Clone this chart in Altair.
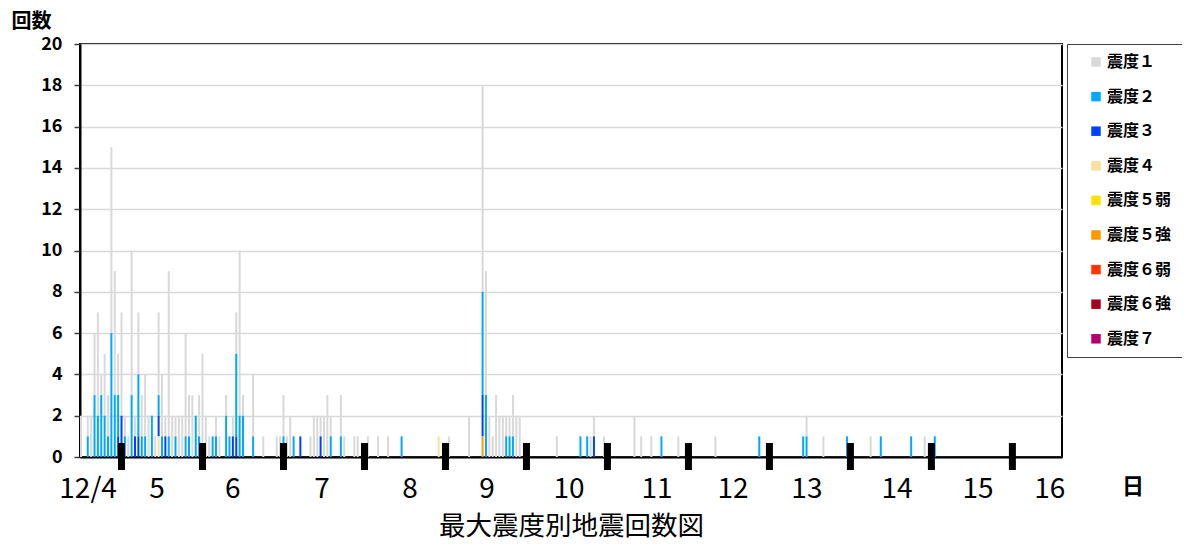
import altair as alt
import pandas as pd

# Intensity classes and their colours
levels = ["震度１", "震度２", "震度３", "震度４", "震度５弱", "震度５強", "震度６弱", "震度６強", "震度７"]
level_colors = ["#d9d9d9", "#00a8ff", "#0040ff", "#fae29c", "#ffe100",
                "#ff9900", "#ff3300", "#a50021", "#b4006c"]

# (hour since 12/4 12:00, count) per intensity class
shindo1 = [(0, 2), (2, 1), (3, 2), (4, 3), (5, 5), (6, 1), (7, 3), (8, 2), (9, 9), (10, 6),
           (11, 2), (12, 5), (13, 1), (14, 1), (15, 7), (16, 1), (17, 3), (18, 2), (19, 3),
           (20, 2), (22, 1), (23, 4), (24, 3), (25, 1), (26, 8), (27, 2), (28, 1), (29, 2),
           (30, 2), (31, 5), (32, 2), (33, 3), (35, 2), (36, 5), (37, 2), (38, 1), (40, 1),
           (41, 1), (43, 1), (45, 1), (46, 2), (47, 8), (48, 1), (51, 3), (54, 1), (58, 1),
           (59, 1), (60, 2), (61, 1), (62, 2), (68, 1), (69, 2), (70, 2), (71, 1), (72, 2),
           (73, 3), (74, 1), (77, 2), (78, 1), (81, 1), (82, 1), (85, 1), (88, 1), (91, 1),
           (109, 1), (115, 2), (119, 10), (120, 6), (121, 2), (122, 1), (123, 3), (124, 2),
           (125, 2), (126, 1), (127, 1), (128, 2), (129, 2), (130, 2), (141, 1), (151, 1),
           (152, 1), (155, 1), (164, 2), (166, 1), (169, 1), (177, 1), (188, 1), (215, 1),
           (220, 1), (234, 1), (250, 1)]
shindo2 = [(2, 1), (4, 3), (5, 2), (6, 3), (7, 2), (8, 1), (9, 6), (10, 3), (11, 2), (13, 1),
           (15, 3), (17, 3), (18, 1), (19, 1), (21, 2), (23, 1), (24, 1), (26, 1), (28, 1),
           (31, 1), (32, 1), (34, 2), (35, 1), (39, 1), (40, 1), (43, 2), (44, 1), (46, 4),
           (47, 2), (48, 2), (51, 1), (60, 1), (63, 1), (74, 1), (77, 1), (95, 1), (119, 5),
           (120, 3), (126, 1), (127, 1), (128, 1), (148, 1), (150, 1), (172, 1), (201, 1),
           (214, 1), (215, 1), (227, 1), (237, 1), (246, 1), (253, 1)]
shindo3 = [(11, 1), (12, 2), (16, 1), (17, 1), (23, 1), (25, 1), (45, 1), (46, 1), (65, 1),
           (71, 1), (119, 2), (152, 1)]
shindo4 = [(23, 1), (106, 1)]
shindo5_strong = [(119, 1)]

# Day boundaries and day labels (axis positions in hours)
day_ticks = [12, 36, 60, 84, 108, 132, 156, 180, 204, 228, 252, 276]
day_labels = ["12/4", "5", "6", "7", "8", "9", "10", "11", "12", "13", "14", "15", "16"]
day_label_pos = [2.1, 22.5, 45.0, 71.4, 97.5, 120.3, 144.6, 170.7, 193.2, 215.1, 241.8, 265.8, 287.1]

series = {"震度１": shindo1, "震度２": shindo2, "震度３": shindo3,
          "震度４": shindo4, "震度５強": shindo5_strong}
rows = []
for lvl, pairs in series.items():
    for h, n in pairs:
        rows.append({"h": h, "n": n, "level": lvl, "rank": levels.index(lvl)})
df = pd.DataFrame(rows)

JP = "Noto Sans CJK JP"
xscale = alt.Scale(domain=[-0.3, 290.7], nice=False, zero=False, padding=0)
xaxis = alt.Axis(labels=False, ticks=False, grid=False, domain=True, domainColor="black",
                 domainWidth=2, title="最大震度別地震回数図", titleFont=JP, titleFontSize=26.5,
                 titleFontWeight="normal", titleColor="black", titlePadding=56)

bars = alt.Chart(df).mark_bar(width=2).encode(
    x=alt.X("h:Q", scale=xscale, axis=xaxis),
    y=alt.Y("n:Q", stack="zero", scale=alt.Scale(domain=[0, 20], nice=False, padding=0),
            axis=alt.Axis(values=list(range(0, 21, 2)), title="回数", titleAngle=0,
                          titleX=-49, titleY=-23, titleAlign="center", titleBaseline="middle",
                          titleFont=JP, titleFontSize=20, titleFontWeight="bold",
                          titleColor="black", labelFont=JP, labelFontSize=18,
                          labelFontWeight="bold", labelColor="black", labelPadding=12,
                          tickColor="#404040", tickSize=6, tickWidth=1.5,
                          domainColor="black", domainWidth=2,
                          gridColor="#d9d9d9", gridWidth=1.5)),
    color=alt.Color("level:N", scale=alt.Scale(domain=levels, range=level_colors),
                    legend=alt.Legend(title=None, orient="none", legendX=987, legendY=0,
                                      padding=10, strokeColor="#404040", fillColor="white",
                                      symbolType="square", symbolSize=90, symbolStrokeWidth=0,
                                      labelFont=JP, labelFontSize=16, labelFontWeight="bold",
                                      labelColor="black", rowPadding=18.6, symbolOffset=11,
                                      labelOffset=3)),
    order=alt.Order("rank:Q", sort="descending"),
)

ticks = alt.Chart(pd.DataFrame({"t": day_ticks})).mark_rule(color="black", strokeWidth=7).encode(
    x=alt.X("t:Q", scale=xscale, axis=xaxis),
    y=alt.value(399), y2=alt.value(426),
)

labels = alt.Chart(pd.DataFrame({"pos": day_label_pos, "label": day_labels})).mark_text(
    font=JP, fontSize=28, baseline="middle", align="center", color="black"
).encode(
    x=alt.X("pos:Q", scale=xscale, axis=xaxis),
    y=alt.value(446),
    text="label:N",
)

day_unit = alt.Chart(pd.DataFrame({"t": ["日"]})).mark_text(
    font=JP, fontSize=22, fontWeight="bold", baseline="middle", align="center", color="black"
).encode(x=alt.value(1053), y=alt.value(443), text="t:N")

chart = alt.layer(bars, ticks, labels, day_unit).properties(
    width=982, height=413,
    padding={"left": 72, "top": 36, "right": 120, "bottom": 87},
    autosize=alt.AutoSizeParams(type="none"),
).configure_view(stroke="black", strokeWidth=2)

chart.save("out.html", embed_options={"renderer": "svg", "actions": False})
